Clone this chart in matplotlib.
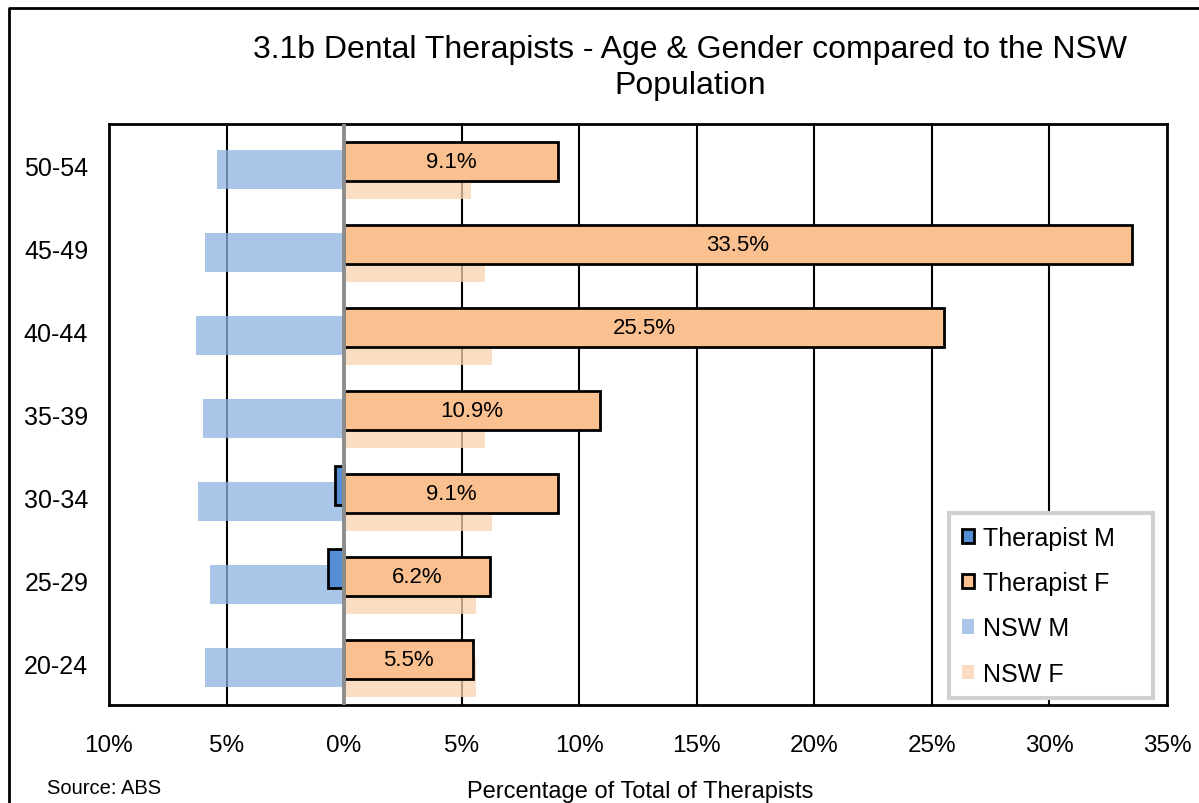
import matplotlib
matplotlib.use("Agg")
import matplotlib.pyplot as plt
from matplotlib.lines import Line2D
from matplotlib.ticker import FuncFormatter
import numpy as np

plt.rcParams['font.family'] = ['Liberation Sans', 'DejaVu Sans']

# data, top to bottom as in the chart (%)
ages = ["50-54", "45-49", "40-44", "35-39", "30-34", "25-29", "20-24"]
therapist_m = [0.0, 0.0, 0.0, 0.0, 0.4, 0.7, 0.0]
therapist_f = [9.1, 33.5, 25.5, 10.9, 9.1, 6.2, 5.5]
nsw_m = [5.4, 5.9, 6.3, 6.0, 6.2, 5.7, 5.9]
nsw_f = [5.4, 6.0, 6.3, 6.0, 6.3, 5.6, 5.6]
xticks = [-10, -5, 0, 5, 10, 15, 20, 25, 30, 35]

fig = plt.figure(figsize=(11.99, 8.04), dpi=100)
ax = fig.add_axes([109 / 1199, 1 - 706 / 804, 1058 / 1199, 581 / 804])

y = np.arange(len(ages))
h = 0.47

# grid lines under the bars
for gx in xticks[1:-1]:
    if gx != 0:
        ax.axvline(gx, color="black", lw=1.5, zorder=0)

ax.barh(y + 0.165, nsw_f, height=h, color="#FAD2B0", alpha=0.75, lw=0,
        label="NSW F", zorder=1)
ax.barh(y + 0.045, [-v for v in nsw_m], height=h, color="#8DB3E2", alpha=0.75,
        lw=0, label="NSW M", zorder=2)
bf = ax.barh(y - 0.045, therapist_f, height=h, color="#FAC090",
             edgecolor="black", lw=2, label="Therapist F", zorder=3)
bm = ax.barh(y - 0.15, [-v for v in therapist_m], height=h, color="#558ED5",
             edgecolor="black", lw=2, label="Therapist M", zorder=4)
# hide zero-width male bars' outline
for rect, v in zip(bm, therapist_m):
    if v == 0:
        rect.set_visible(False)

ax.bar_label(bf, labels=["%.1f%%" % v for v in therapist_f],
             label_type="center", fontsize=16)

ax.axvline(0, color="#8c8c8c", lw=2.8, zorder=5)

ax.set_xlim(-10, 35)
ax.set_ylim(len(ages) - 0.5, -0.5)
ax.set_xticks(xticks)
ax.xaxis.set_major_formatter(FuncFormatter(lambda v, p: "%d%%" % abs(v)))
ax.set_yticks(y)
ax.set_yticklabels(ages)
ax.tick_params(axis="x", length=0, pad=21, labelsize=17.5)
ax.tick_params(axis="y", length=0, pad=15, labelsize=18)
for s in ax.spines.values():
    s.set_linewidth(2)
    s.set_color("black")

handles = [bm[4], bf[0],
           plt.Rectangle((0, 0), 1, 1, color="#8DB3E2", alpha=0.75, lw=0),
           plt.Rectangle((0, 0), 1, 1, color="#FAD2B0", alpha=0.75, lw=0)]
leg = ax.legend(handles, ["Therapist M", "Therapist F", "NSW M", "NSW F"],
                loc="lower left", bbox_to_anchor=(0.794, 0.012, 0.193, 0.322),
                mode="expand", fontsize=18, frameon=True, fancybox=False,
                framealpha=1, edgecolor="#d0d0d0", handlelength=0.5,
                handleheight=0.5, handletextpad=0.35, labelspacing=0.85,
                borderpad=0.5, borderaxespad=0)
leg.get_frame().set_linewidth(3)
leg.set_zorder(10)

fig.text(690 / 1199, 1 - 68 / 804,
         "3.1b Dental Therapists - Age & Gender compared to the NSW\nPopulation",
         ha="center", va="center", fontsize=23, linespacing=1.3)
fig.text(47 / 1199, 1 - 789 / 804, "Source: ABS", ha="left", va="center",
         fontsize=14.5)
fig.text(640 / 1199, 1 - 792 / 804, "Percentage of Total of Therapists",
         ha="center", va="center", fontsize=17)

# outer chart border (left and top)
fig.add_artist(Line2D([9 / 1199, 9 / 1199, 1], [0, 1 - 9 / 804, 1 - 9 / 804],
                      transform=fig.transFigure, color="black", lw=2))

fig.savefig("out.png", dpi=100)
